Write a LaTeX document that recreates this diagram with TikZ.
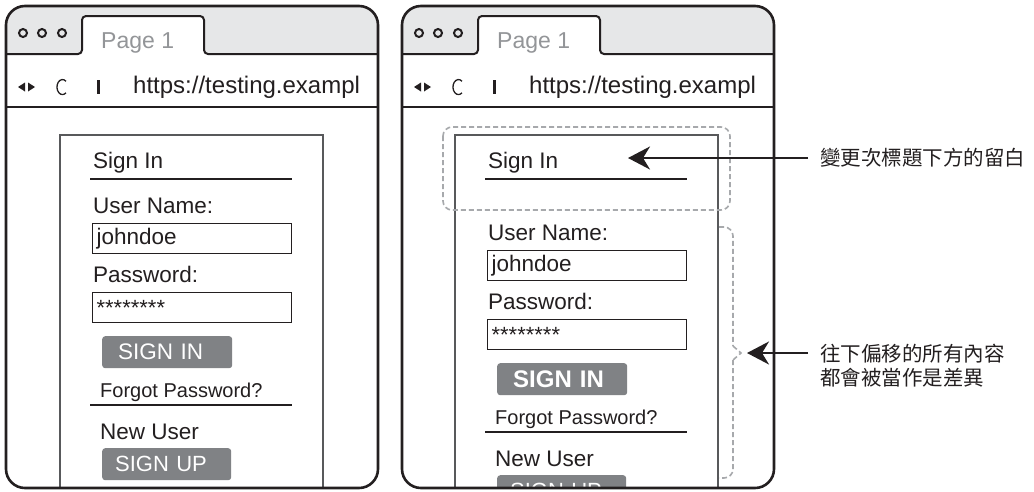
\documentclass[tikz,border=0pt]{standalone}
\usepackage{fontspec}
\setmainfont{Liberation Sans}
\newfontfamily\cjkfont{Noto Sans CJK TC}
\usetikzlibrary{arrows.meta}

\definecolor{ink}{HTML}{231F20}
\definecolor{tabgray}{HTML}{E6E7E8}
\definecolor{titlegray}{HTML}{939598}
\definecolor{btngray}{HTML}{808285}
\definecolor{dashgray}{HTML}{A7A9AC}
\definecolor{panelgray}{HTML}{58595B}

\newcommand{\fsz}[1]{\fontsize{#1}{#1}\selectfont}

\tikzset{
  frame/.style={draw=ink, line width=2.6pt, rounded corners=19pt},
  chromeline/.style={draw=ink, line width=2pt},
  tabtitle/.style={anchor=base west, inner sep=0pt, text=titlegray, font=\fsz{23}},
  urltext/.style={anchor=base west, inner sep=0pt, text=ink, font=\fsz{24}},
  panel/.style={draw=panelgray, line width=1.4pt},
  formtext/.style={anchor=base west, inner sep=0pt, text=ink, font=\fsz{22.5}},
  smalltext/.style={anchor=base west, inner sep=0pt, text=ink, font=\fsz{20}},
  rule/.style={draw=ink, line width=2.4pt},
  field/.style={draw=ink, line width=1.2pt, anchor=north west, minimum height=30pt,
    inner xsep=4pt, inner ysep=0pt, text width=191pt, align=left, text=ink},
  button/.style={fill=btngray, rounded corners=3pt, anchor=north west, minimum height=32pt,
    inner ysep=0pt, align=left, text=white},
  dashline/.style={draw=dashgray, line width=1.6pt, dash pattern=on 5pt off 3pt},
  note/.style={inner xsep=12pt, inner ysep=0pt, text=ink, font=\cjkfont\fontsize{20.5}{24}\selectfont, align=left},
  pointer/.style={draw=ink, line width=2pt, -{Stealth[length=22pt, width=23pt, inset=7pt]}},
}

% Browser chrome: tab strip, tab, window buttons and address bar
\newcommand{\browserchrome}{%
  \fill[white, rounded corners=19pt] (6,6) rectangle (378,488);
  \begin{scope}
    \clip[rounded corners=19pt] (6,6) rectangle (378,488);
    \fill[tabgray, rounded corners=4pt] (0,54) -- (82,54) -- (82,16) -- (204,16)
      -- (204,54) -- (390,54) -- (390,0) -- (0,0) -- cycle;
  \end{scope}
  \draw[chromeline, rounded corners=4pt] (6,54) -- (82,54) -- (82,16) -- (204,16)
    -- (204,54) -- (378,54);
  \foreach \cx in {23,42,62} \draw[ink, line width=2pt] (\cx,33) circle (4pt);
  \node[tabtitle] (tab) at (101,48) {Page 1};
  \draw[chromeline] (6,107) -- (378,107);
  % back / forward / reload / separator
  \fill[ink] (18,87) -- (25,82.5) -- (25,91.5) -- cycle;
  \fill[ink] (35,87) -- (28,82.5) -- (28,91.5) -- cycle;
  \draw[ink, line width=1.3pt] (66,81.3) arc[start angle=50, end angle=310, x radius=5.5pt, y radius=7.5pt];
  \fill[ink] (97,80) rectangle (100,94);
  \node[urltext] (url) at (133,93) {https://testing.exampl};
}

% Title of the sign-in form
\newcommand{\formheader}{%
  \node[formtext] (signin) at (93,168) {Sign In};
  \draw[rule] (90,179) -- (292,179);
}

% Fields and buttons of the sign-in form; #1 is the font of the SIGN IN button
\newcommand{\formbody}[1]{%
  \node[formtext] (username) at (93,213) {User Name:};
  \node[field, font=\fsz{22.5}] (userbox) at (92,223) {johndoe};
  \node[formtext] (password) at (93,282) {Password:};
  \node[field, font=\fsz{22}] (passbox) at (92,292) {********};
  \node[button, minimum width=130pt, inner xsep=16pt, text width=98pt, font=#1] (signinbtn) at (102,336) {SIGN IN};
  \node[smalltext] (forgot) at (100,397) {Forgot Password?};
  \draw[rule] (90,405) -- (292,405);
  \node[formtext] (newuser) at (100,439) {New User};
  \node[button, minimum width=129pt, inner xsep=13pt, text width=103pt, font=\fsz{22}] (signupbtn) at (102,448) {SIGN UP};
}

\begin{document}
\begin{tikzpicture}[x=1pt, y=-1pt]
\useasboundingbox (0,0) rectangle (1034,491);

% Browser window before the change
\begin{scope}[name prefix=L-]
  \browserchrome
  \begin{scope}
    \clip[rounded corners=19pt] (6,6) rectangle (378,488);
    \draw[panel] (60,135) rectangle (323,520);
    \formheader
    \formbody{\fsz{22.5}}
  \end{scope}
  \draw[frame] (6,6) rectangle (378,488);
\end{scope}

% Browser window after the change
\begin{scope}[shift={(396,0)}, name prefix=R-]
  \browserchrome
  \begin{scope}
    \clip[rounded corners=19pt] (6,6) rectangle (378,488);
    \begin{scope}[shift={(-1,0)}]
      \draw[panel] (60,135) rectangle (323,520);
      \formheader
      \begin{scope}[shift={(0,27)}]
        \formbody{\bfseries\fsz{24}}
      \end{scope}
    \end{scope}
  \end{scope}
  \draw[frame] (6,6) rectangle (378,488);
\end{scope}

% Highlight around the title and brace along the shifted content
\draw[dashline, rounded corners=9pt] (443,127) rectangle (730,210);
\draw[dashline, rounded corners=9pt] (719,227) -- (733,227) -- (733,346);
\draw[dashline] (733,346) -- (741,353) -- (733,360);
\draw[dashline, rounded corners=9pt] (733,360) -- (733,478) -- (719,478);

% Callouts
\coordinate (tip1) at (628,158);
\coordinate (tip2) at (747,353);
\node[note, anchor=west] (note1) at (808,158) {變更次標題下方的留白};
\node[note, anchor=north west] (note2) at (808,344) {往下偏移的所有內容\\都會被當作是差異};
\draw[pointer] (note1.west) -- (tip1);
\draw[pointer] (note2.west |- tip2) -- (tip2);
\end{tikzpicture}
\end{document}
